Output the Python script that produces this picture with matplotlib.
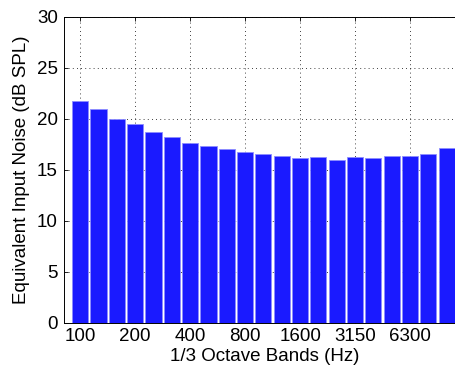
import matplotlib
matplotlib.use("Agg")
import matplotlib.pyplot as plt
import numpy as np

# 1/3 octave band centres (Hz) and equivalent input noise (dB SPL)
bands = [100, 125, 160, 200, 250, 315, 400, 500, 630, 800, 1000,
         1250, 1600, 2000, 2500, 3150, 4000, 5000, 6300, 8000, 10000]
noise = [21.7, 21.0, 20.0, 19.45, 18.7, 18.25, 17.65, 17.3, 17.0, 16.7, 16.55,
         16.3, 16.1, 16.2, 16.0, 16.25, 16.1, 16.3, 16.3, 16.5, 17.1]
tick_labels = ["100", "200", "400", "800", "1600", "3150", "6300"]

plt.rcParams['font.family'] = ['Liberation Sans', 'DejaVu Sans']
plt.rcParams['font.size'] = 13.5

fig = plt.figure(figsize=(4.55, 3.71), dpi=100)
ax = fig.add_axes([63.5 / 455, 48.3 / 371, (465 - 63.5) / 455, (322.7 - 16.7) / 371])

x = np.arange(1, len(bands) + 1)
ax.bar(x, noise, width=0.88, color='#1a1aff', edgecolor='#8c8cff', linewidth=0.6, zorder=2)

ax.set_xlim(0.09, 22)
ax.set_ylim(0, 30)
ax.set_yticks(np.arange(0, 31, 5))
ax.set_xticks(x[::3])
ax.set_xticklabels(tick_labels)
ax.tick_params(direction='in', length=3, top=True, right=True, width=0.6, pad=4)
ax.grid(True, linestyle=(0, (1, 4)), color='black', linewidth=0.6, zorder=0)
ax.set_axisbelow(True)
for s in ax.spines.values():
    s.set_linewidth(0.7)

ax.set_xlabel("1/3 Octave Bands (Hz)", labelpad=2)
ax.set_ylabel("Equivalent Input Noise (dB SPL)", labelpad=5)

fig.savefig("out.png", dpi=100)
